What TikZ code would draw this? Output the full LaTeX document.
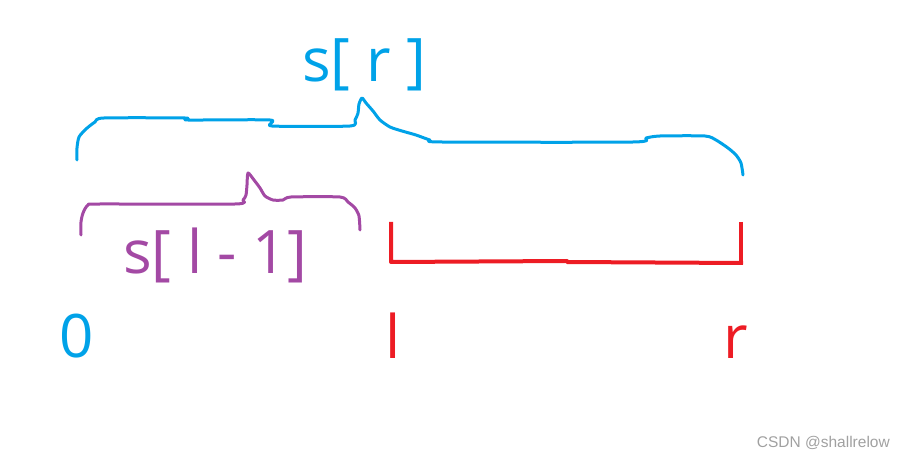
\documentclass[tikz,border=0pt]{standalone}
\definecolor{pBlue}{HTML}{00A2E8}
\definecolor{pPurple}{HTML}{A349A4}
\definecolor{pRed}{HTML}{ED1C24}
\definecolor{pGray}{HTML}{A0A0A0}
\usepackage{fontspec}
\setmainfont{Open Sans}
\newfontfamily\markfont{Liberation Sans}
\usepackage{tikz}
\usetikzlibrary{positioning}

\begin{document}
\begin{tikzpicture}[x=1pt, y=-1pt,
    every node/.style={inner sep=0pt, anchor=base, font=\fontsize{60}{60}\selectfont},
    pen/.style={line width=3pt, line cap=round, line join=round}]
        \useasboundingbox (0,0) rectangle (900,457);
        % Prefix up to r
        \node[pBlue] (sr) at (364,82) {s[ r ]};
        \draw[pBlue, pen] plot[smooth, tension=0.4] coordinates
          {(77,160) (77,148) (79,137) (86,129) (95,122) (104,118) (185,118)
           (188,120) (270,120) (272,126) (350,126) (355,120) (358,113)
           (359,104) (362,98) (366,103) (373,111) (380,120) (390,127)
           (402,131) (416,135) (430,140) (442,142) (633,142) (646,138)
           (660,136) (705,136) (716,140) (728,148) (736,155) (741,163) (743,175)};
        % Prefix up to l-1
        \node[pPurple] (sl) at (215,273) {s[ l - 1]};
        \draw[pPurple, pen] plot[smooth, tension=0.4] coordinates
          {(81,235) (81,222) (83,213) (88,205) (100,204) (235,204) (243,200)
           (246,195) (247,185) (248,173) (254,180) (260,188) (265,196)
           (273,200) (283,200) (291,197) (340,197) (348,202) (355,208)
           (359,216) (360,230)};
        % Interval [l, r]
        \coordinate (lt) at (391,222);
        \coordinate (lb) at (391,262);
        \coordinate (rt) at (741,222);
        \coordinate (rb) at (743,263);
        \draw[pRed, line width=4pt, line join=round] (lt) -- (lb) -- (567,261) -- (567,262) -- (rb);
        \draw[pRed, line width=4pt] (rt) -- (741,263);
        % Index labels
        \node[pBlue] (zero) at (77,357) {0};
        \node[pRed] (lidx) at (393,358) {l};
        \node[pRed] (ridx) at (736,358) {r};
        % Watermark
        \node[pGray, anchor=base east, font=\markfont\fontsize{15.5}{15.5}\selectfont] (mark) at (890,447) {CSDN @shallrelow};
      \end{tikzpicture}
\end{document}
